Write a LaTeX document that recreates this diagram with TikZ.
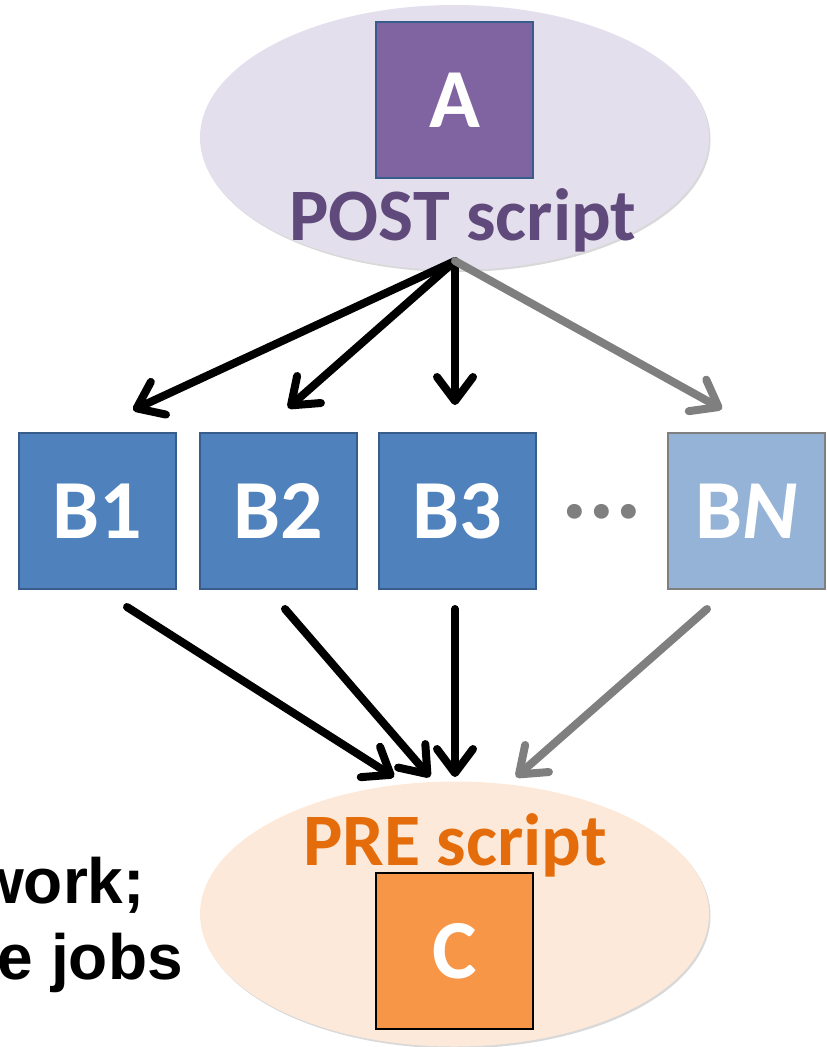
\documentclass[tikz,border=0pt]{standalone}
\usepackage{fontspec}
\setmainfont{Carlito}
\newfontfamily\arialfont{Liberation Sans}
\usetikzlibrary{arrows.meta,shapes.geometric,shadows}
\definecolor{lav}{HTML}{E4DFEC}
\definecolor{purp}{HTML}{8064A2}
\definecolor{purptext}{HTML}{604A7B}
\definecolor{bluefill}{HTML}{4F81BD}
\definecolor{blueedge}{HTML}{385D8A}
\definecolor{lightblue}{HTML}{95B3D7}
\definecolor{greyc}{HTML}{7F7F7F}
\definecolor{peach}{HTML}{FDE9D9}
\definecolor{orangetext}{HTML}{E46C0A}
\definecolor{orangefill}{HTML}{F79646}
\tikzset{
  cloud/.style={ellipse, draw=none, inner sep=0pt, minimum width=509pt, minimum height=265pt,
    drop shadow={shadow xshift=1.5pt, shadow yshift=-2pt, opacity=0.25, fill=black!60}},
  jobbox/.style={rectangle, inner sep=0pt, minimum width=157pt, minimum height=156pt,
    font=\fontsize{84}{84}\selectfont\bfseries, text=white},
  scripttext/.style={inner sep=0pt, anchor=base, font=\fontsize{74}{74}\selectfont\bfseries},
  edge/.style={line width=8pt, line cap=round, line join=round,
    -{Straight Barb[length=24pt, width=36pt, line width=8pt, round]}},
  blackedge/.style={edge, draw=black},
  greyedge/.style={edge, draw=greyc},
  sidetext/.style={inner sep=0pt, anchor=base east, font=\arialfont\fontsize{64}{64}\selectfont\bfseries}
}
\begin{document}
\begin{tikzpicture}[x=1pt, y=-1pt]
\useasboundingbox (0,0) rectangle (827,1047);
% top cloud
\node[cloud, fill=lav] (top) at (454.5,137.5) {};
\node[jobbox, fill=purp, draw=blueedge, line width=2pt] (A) at (454.5,100) {A};
\node[scripttext, text=purptext] (post) at (463,240) {POST script};
% B row
\node[jobbox, fill=bluefill, draw=blueedge, line width=2pt] (B1) at (97,511) {B1};
\node[jobbox, fill=bluefill, draw=blueedge, line width=2pt] (B2) at (278.5,511) {B2};
\node[jobbox, fill=bluefill, draw=blueedge, line width=2pt] (B3) at (457.5,511) {B3};
\node[jobbox, fill=lightblue, draw=greyc, line width=2.5pt] (BN) at (746.5,511) {B\textit{N}};
\node[inner sep=0pt, text=greyc, font=\fontsize{100}{100}\selectfont\bfseries] (dots) at (602,512) {...};
% bottom cloud
\node[cloud, fill=peach] (bot) at (454.5,914) {};
\node[scripttext, text=orangetext] (pre) at (455,865) {PRE script};
\node[jobbox, fill=orangefill, draw=black, line width=2.5pt] (C) at (454.5,951) {C};
% side text
\node[sidetext] (t1) at (145,903) {work;};
\node[sidetext] (t2) at (183,979) {e jobs};
% connectors
\coordinate (src) at (455,261);
\coordinate (e1) at (133,410);
\coordinate (e2) at (288,408);
\coordinate (e3) at (455,405);
\coordinate (eN) at (722,409);
\draw[blackedge] (src) -- (e1);
\draw[blackedge] (src) -- (e2);
\draw[blackedge] (src) -- (e3);
\draw[greyedge] (src) -- (eN);
\coordinate (s1) at (127,607);
\coordinate (s2) at (285,609);
\coordinate (s3) at (455,609);
\coordinate (sN) at (707,609);
\coordinate (f1) at (394,777);
\coordinate (f2) at (430,777);
\coordinate (f3) at (455,777);
\coordinate (fN) at (516,777);
\draw[blackedge] (s1) -- (f1);
\draw[blackedge] (s2) -- (f2);
\draw[blackedge] (s3) -- (f3);
\draw[greyedge] (sN) -- (fN);
\end{tikzpicture}
\end{document}
